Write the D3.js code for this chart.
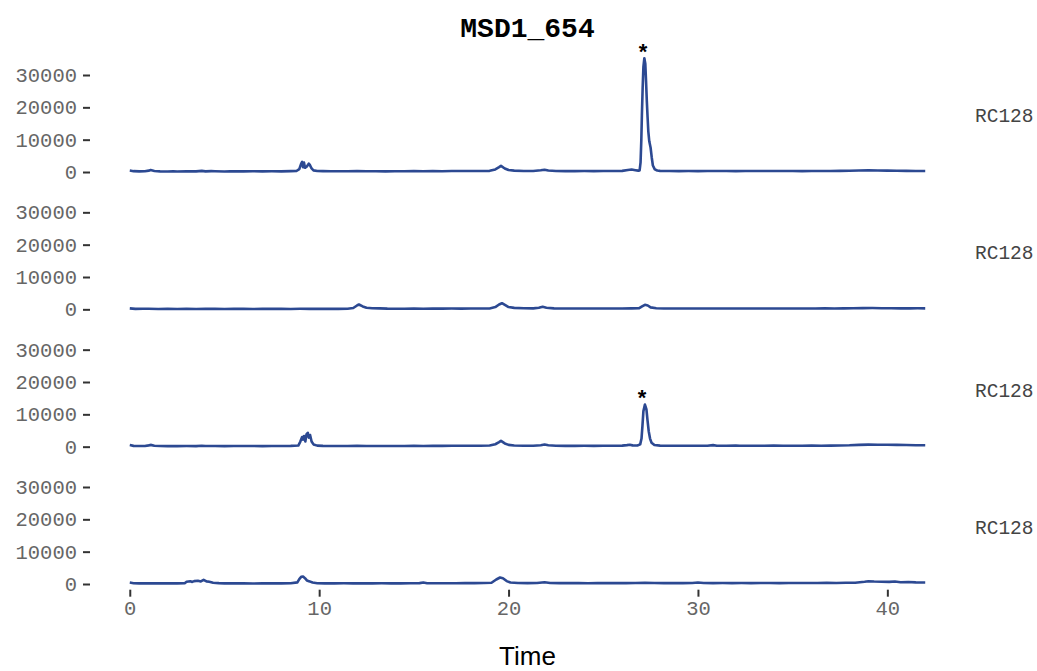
<!DOCTYPE html>
<html>
<head>
<meta charset="utf-8">
<script src="https://d3js.org/d3.v7.min.js"></script>
<style>
	body { margin: 0; background: #fff; }
	svg { display: block; }
</style>
</head>
<body>
<svg id="vis"></svg>

<script>
	// chromatogram traces, [time, signal]
	const trace1 = [
		[0, 450], [0.2, 260], [0.5, 200], [0.8, 230], [1.0, 420], [1.1, 600], [1.3, 320], [1.6, 210],
		[2.0, 180], [2.3, 230], [2.5, 170], [3.0, 210], [3.5, 190], [3.8, 360], [4.0, 200], [4.3, 260],
		[4.5, 230], [5.0, 180], [5.3, 250], [5.5, 210], [6.0, 200], [6.5, 240], [7.0, 190], [7.5, 230],
		[8.0, 210], [8.5, 260], [8.8, 320],
		[8.95, 900], [9.05, 2600], [9.1, 3100], [9.15, 1500], [9.2, 2900], [9.25, 1300], [9.35, 1700],
		[9.45, 2600], [9.5, 2300], [9.6, 1100], [9.7, 500], [9.9, 300], [10.2, 260], [10.6, 230],
		[11.0, 220], [11.5, 250], [12.0, 260], [12.5, 230], [13.0, 220], [13.5, 210], [14.0, 240],
		[14.5, 220], [15.0, 260], [15.5, 230], [16.0, 270], [16.5, 250], [17.0, 290], [17.5, 310],
		[18.0, 330], [18.5, 290], [19.0, 360], [19.3, 800], [19.5, 1500], [19.6, 1900], [19.8, 1100],
		[20.0, 600], [20.3, 420], [20.8, 310], [21.3, 290], [21.7, 520], [21.9, 720], [22.1, 460],
		[22.5, 310], [23.0, 260], [23.5, 270], [24.0, 290], [24.5, 280], [25.0, 310], [25.5, 330],
		[26.0, 360], [26.3, 620], [26.5, 760], [26.7, 560], [26.85, 420], [26.92, 500], [26.97, 3000],
		[27.01, 10000], [27.04, 17600], [27.08, 26000], [27.12, 32500], [27.17, 35200], [27.22, 33500],
		[27.26, 28000], [27.3, 22000], [27.34, 17000], [27.38, 12500], [27.43, 9500], [27.5, 7500],
		[27.56, 4500], [27.62, 2000], [27.72, 800],
		[27.85, 450], [28.0, 360], [28.5, 310], [29.0, 280], [29.5, 300], [30.0, 280], [30.5, 330],
		[31.0, 290], [31.5, 300], [32.0, 280], [32.5, 310], [33.0, 290], [33.5, 300], [34.0, 320],
		[34.5, 290], [35.0, 300], [35.5, 280], [36.0, 310], [36.5, 300], [37.0, 320], [37.5, 350],
		[38.0, 380], [38.5, 460], [39.0, 520], [39.5, 450], [40.0, 430], [40.5, 380], [41.0, 360],
		[41.5, 330], [42.0, 320]
	];
	const trace2 = [
		[0, 300], [0.3, 150], [0.7, 200], [1.0, 160], [1.5, 120], [2.0, 150], [2.5, 110], [3.0, 140],
		[3.5, 120], [4.0, 160], [4.5, 130], [5.0, 120], [5.5, 150], [6.0, 130], [6.5, 110], [7.0, 140],
		[7.5, 130], [8.0, 150], [8.5, 120], [9.0, 160], [9.5, 140], [10.0, 130], [10.5, 150], [11.0, 140],
		[11.5, 160], [11.8, 400], [12.0, 1200], [12.1, 1500], [12.3, 900], [12.5, 500], [12.8, 350],
		[13.2, 300], [13.6, 220], [14.0, 200], [14.5, 190], [15.0, 220], [15.5, 200], [16.0, 260],
		[16.5, 220], [17.0, 240], [17.5, 230], [18.0, 260], [18.5, 240], [19.0, 280], [19.3, 700],
		[19.5, 1500], [19.65, 1900], [19.85, 1200], [20.0, 700], [20.3, 450], [20.8, 330], [21.3, 300],
		[21.6, 500], [21.8, 800], [22.0, 500], [22.4, 300], [23.0, 260], [23.5, 280], [24.0, 250],
		[24.5, 270], [25.0, 260], [25.5, 280], [26.0, 250], [26.5, 300], [26.9, 350], [27.05, 900],
		[27.2, 1400], [27.35, 1200], [27.5, 600], [27.8, 350], [28.2, 280], [28.7, 250], [29.2, 270],
		[29.7, 240], [30.2, 260], [30.7, 250], [31.2, 270], [31.7, 240], [32.2, 260], [32.7, 280],
		[33.2, 250], [33.7, 270], [34.2, 260], [34.7, 280], [35.2, 250], [35.7, 270], [36.2, 260],
		[36.7, 290], [37.2, 270], [37.7, 300], [38.2, 320], [38.7, 380], [39.2, 400], [39.7, 360],
		[40.2, 340], [40.7, 300], [41.2, 290], [41.6, 320], [42.0, 300]
	];
	const trace3 = [
		[0, 500], [0.2, 250], [0.5, 200], [0.8, 220], [1.0, 400], [1.1, 550], [1.3, 280], [1.6, 200],
		[2.0, 170], [2.5, 160], [3.0, 190], [3.5, 180], [3.8, 300], [4.0, 190], [4.5, 210], [5.0, 170],
		[5.5, 200], [6.0, 190], [6.5, 220], [7.0, 180], [7.5, 210], [8.0, 200], [8.5, 240], [8.9, 350],
		[9.0, 1500], [9.1, 3000], [9.15, 2200], [9.2, 3300], [9.27, 1600], [9.33, 3800], [9.4, 4300],
		[9.45, 2800], [9.52, 3600], [9.6, 1600], [9.7, 700], [9.9, 320], [10.2, 250], [10.6, 220],
		[11.0, 210], [11.5, 230], [12.0, 250], [12.5, 220], [13.0, 210], [13.5, 200], [14.0, 230],
		[14.5, 210], [15.0, 240], [15.5, 220], [16.0, 250], [16.5, 240], [17.0, 270], [17.5, 290],
		[18.0, 300], [18.5, 280], [19.0, 340], [19.3, 750], [19.5, 1400], [19.6, 1800], [19.8, 1000],
		[20.0, 550], [20.3, 380], [20.8, 290], [21.3, 270], [21.7, 450], [21.9, 650], [22.1, 420],
		[22.5, 290], [23.0, 240], [23.5, 250], [24.0, 270], [24.5, 260], [25.0, 290], [25.5, 300],
		[26.0, 320], [26.25, 480], [26.4, 600], [26.55, 400], [26.8, 350], [26.95, 700], [27.02, 2500],
		[27.07, 6500], [27.12, 11000], [27.2, 13000], [27.28, 11500], [27.34, 8000], [27.4, 4800],
		[27.47, 2500], [27.55, 1200], [27.7, 500], [28.0, 330], [28.5, 300], [29.0, 270], [29.5, 290],
		[30.0, 270], [30.5, 300], [30.8, 480], [31.0, 300], [31.5, 290], [32.0, 380], [32.2, 290],
		[32.7, 300], [33.0, 280], [33.5, 300], [34.0, 310], [34.5, 290], [35.0, 300], [35.5, 280],
		[36.0, 310], [36.5, 300], [37.0, 330], [37.5, 360], [38.0, 420], [38.5, 560], [39.0, 620],
		[39.5, 590], [40.0, 610], [40.5, 560], [41.0, 500], [41.5, 450], [42.0, 420]
	];
	const trace4 = [
		[0, 450], [0.2, 250], [0.5, 180], [0.8, 220], [1.2, 190], [1.6, 230], [2.0, 200], [2.5, 180],
		[2.9, 250], [3.0, 700], [3.2, 850], [3.3, 650], [3.4, 900], [3.6, 1000], [3.75, 800], [3.9, 1300],
		[4.05, 800], [4.2, 700], [4.4, 400], [4.7, 260], [5.0, 200], [5.5, 180], [6.0, 200], [6.5, 170],
		[7.0, 190], [7.5, 180], [8.0, 200], [8.5, 220], [8.85, 500], [8.95, 1500], [9.05, 2200],
		[9.15, 2300], [9.25, 1800], [9.35, 1100], [9.5, 800], [9.65, 450], [9.9, 250], [10.3, 200],
		[10.8, 190], [11.3, 210], [11.8, 180], [12.3, 200], [12.8, 190], [13.3, 210], [13.8, 180],
		[14.3, 200], [14.8, 220], [15.3, 260], [15.5, 450], [15.7, 250], [16.2, 230], [16.7, 250],
		[17.2, 240], [17.7, 270], [18.2, 280], [18.7, 300], [19.1, 400], [19.35, 1400], [19.55, 2000],
		[19.7, 1800], [19.9, 900], [20.1, 450], [20.5, 300], [21.0, 280], [21.5, 300], [21.9, 550],
		[22.2, 330], [22.7, 280], [23.2, 260], [23.7, 270], [24.2, 250], [24.7, 270], [25.2, 260],
		[25.7, 280], [26.2, 270], [26.7, 300], [27.2, 350], [27.7, 300], [28.2, 280], [28.7, 260],
		[29.2, 280], [29.7, 300], [30.0, 450], [30.3, 320], [30.8, 280], [31.3, 300], [31.8, 280],
		[32.3, 290], [32.8, 270], [33.3, 310], [33.8, 290], [34.3, 270], [34.8, 300], [35.3, 290],
		[35.8, 320], [36.3, 300], [36.8, 350], [37.3, 330], [37.8, 380], [38.3, 400], [38.8, 700],
		[39.0, 850], [39.3, 750], [39.7, 700], [40.1, 650], [40.4, 780], [40.7, 560], [41.1, 620],
		[41.5, 500], [42.0, 480]
	];

	const traces = [trace1, trace2, trace3, trace4];
	const samples = ["RC128", "RC128", "RC128", "RC128"];
	const stars = [
		{ panel: 0, t: 27.1, v: 38700 },
		{ panel: 2, t: 27.05, v: 16700 }
	];
	const yTicks = [0, 10000, 20000, 30000];
	const xTicks = [0, 10, 20, 30, 40];

	const W = 1037, H = 671;
	const panelTop = 52.5, panelH = 125.2, panelGap = 12.13;
	const mono = "'Liberation Mono', 'Courier New', monospace";

	const svg = d3.select("#vis").attr("width", W).attr("height", H);

	const x = d3.scaleLinear().domain([-2.1, 44.1]).range([90, 965]);

	const line = d3.line();

	traces.forEach((tr, i) => {
		const top = panelTop + i * (panelH + panelGap);
		const y = d3.scaleLinear().domain([-1760, 36960]).range([top + panelH, top]);

		const g = svg.append("g");

		const ay = g.append("g")
			.attr("transform", "translate(90,0)")
			.call(d3.axisLeft(y).tickValues(yTicks).tickSize(7).tickPadding(6).tickFormat(d3.format("d")));
		ay.select(".domain").remove();
		ay.selectAll(".tick line").attr("stroke", "#333").attr("stroke-width", 2);
		ay.selectAll(".tick text")
			.attr("fill", "#666")
			.style("font-family", mono)
			.style("font-size", "20.5px");

		g.append("path")
			.datum(tr)
			.attr("fill", "none")
			.attr("stroke", "#2c4992")
			.attr("stroke-width", 2.6)
			.attr("stroke-linejoin", "round")
			.attr("d", line.x(d => x(d[0])).y(d => y(d[1])));

		g.append("text")
			.attr("x", 975)
			.attr("y", top + panelH / 2)
			.attr("dy", "0.35em")
			.attr("fill", "#444")
			.style("font-family", mono)
			.style("font-size", "19.5px")
			.text(samples[i]);

		stars.filter(s => s.panel === i).forEach(s => {
			g.append("text")
				.attr("x", x(s.t))
				.attr("y", y(s.v) + 12)
				.attr("text-anchor", "middle")
				.attr("fill", "#000")
				.style("font-family", "'Liberation Sans', Arial, sans-serif")
				.style("font-weight", "bold")
				.style("font-size", "22px")
				.text("*");
		});

		if (i === traces.length - 1) {
			const ax = g.append("g")
				.attr("transform", `translate(0,${top + panelH})`)
				.call(d3.axisBottom(x).tickValues(xTicks).tickSize(7).tickPadding(3.5));
			ax.select(".domain").remove();
			ax.selectAll(".tick line").attr("stroke", "#333").attr("stroke-width", 2);
			ax.selectAll(".tick text")
				.attr("fill", "#666")
				.style("font-family", mono)
				.style("font-size", "20.5px");
		}
	});

	// title and axis label
	svg.append("text")
		.attr("x", 527.5)
		.attr("y", 37)
		.attr("text-anchor", "middle")
		.style("font-family", mono)
		.style("font-weight", "bold")
		.style("font-size", "28px")
		.text("MSD1_654");

	svg.append("text")
		.attr("x", 527.5)
		.attr("y", 665)
		.attr("text-anchor", "middle")
		.style("font-family", "'Liberation Sans', Arial, sans-serif")
		.style("font-size", "26px")
		.text("Time");
</script>
</body>
</html>
